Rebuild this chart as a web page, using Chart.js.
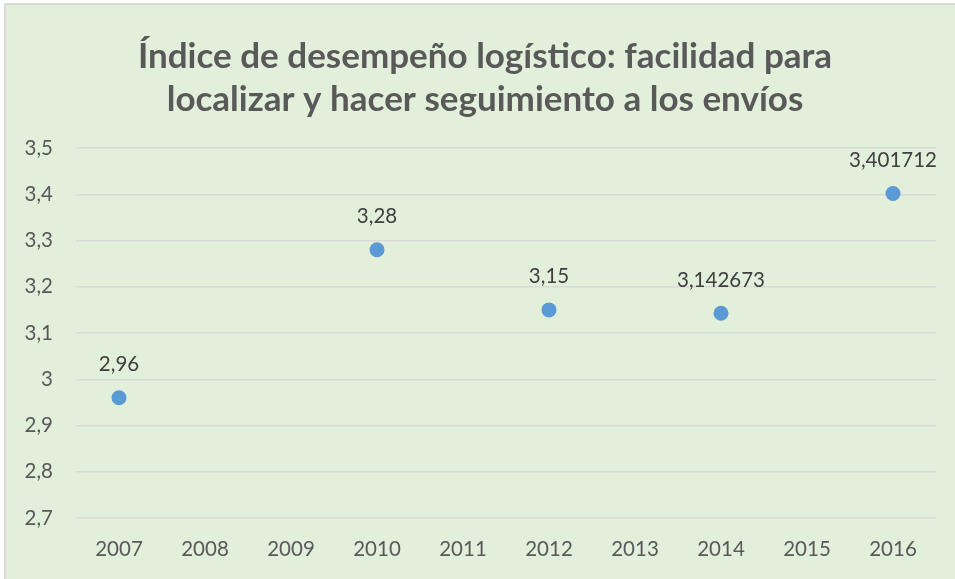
<!DOCTYPE html>
<html>
<head>
<meta charset="utf-8">
<script src="https://cdn.jsdelivr.net/npm/chart.js@4"></script>
<style>
  html, body { margin: 0; padding: 0; background: #ffffff; }
  #wrap { position: relative; width: 955px; height: 579px; }
  #bg {
    position: absolute; left: 4px; top: 3px; width: 951px; height: 576px;
    background: #E2EFDA; border-left: 2px solid #D9D9D9; border-top: 2px solid #D9D9D9;
    box-sizing: border-box;
  }
  #c { position: absolute; left: 0; top: 0; }
</style>
</head>
<body>
<div id="wrap">
  <div id="bg"></div>
  <canvas id="c" width="955" height="579"></canvas>
</div>
<script>
var years = ['2007', '2008', '2009', '2010', '2011', '2012', '2013', '2014', '2015', '2016'];
var values = [2.96, null, null, 3.28, null, 3.15, null, 3.142673, null, 3.401712];
var valueLabels = ['2,96', '', '', '3,28', '', '3,15', '', '3,142673', '', '3,401712'];
var titleLines = ['Índice de desempeño logístico: facilidad para', 'localizar y hacer seguimiento a los envíos'];

// title is drawn by hand: it is centred on the whole chart box, not on the canvas
var chartTitle = {
    id: 'chartTitle',
    afterDraw: function(chart) {
        var ctx = chart.ctx;
        ctx.save();
        ctx.font = 'bold 35px Lato';
        ctx.fillStyle = '#595959';
        ctx.textAlign = 'center';
        ctx.textBaseline = 'middle';
        ctx.fillText(titleLines[0], 485, 57);
        ctx.fillText(titleLines[1], 485, 100);
        ctx.restore();
    }
};

// draws the value above each point
var pointLabels = {
    id: 'pointLabels',
    afterDatasetsDraw: function(chart) {
        var ctx = chart.ctx;
        var meta = chart.getDatasetMeta(0);
        ctx.save();
        ctx.font = '20.5px Lato';
        ctx.fillStyle = '#404040';
        ctx.textAlign = 'center';
        ctx.textBaseline = 'middle';
        meta.data.forEach(function(pt, i) {
            if (values[i] === null) return;
            ctx.fillText(valueLabels[i], pt.x, pt.y - 33);
        });
        ctx.restore();
    }
};

var ctx = document.getElementById('c');
var myChart = new Chart(ctx, {
    type: 'line',
    data: {
        labels: years,
        datasets: [{
            data: values,
            showLine: false,
            pointRadius: 7.5,
            pointHoverRadius: 7.5,
            pointBackgroundColor: '#5B9BD5',
            pointBorderColor: '#5B9BD5',
            pointBorderWidth: 0
        }]
    },
    options: {
        responsive: false,
        animation: false,
        events: [],
        layout: { padding: { left: 0, right: 19, top: 148, bottom: 0 } },
        plugins: {
            legend: { display: false },
            tooltip: { enabled: false },
            title: { display: false }
        },
        scales: {
            y: {
                min: 2.7,
                max: 3.5,
                afterFit: function(scale) { scale.width = 76; },
                ticks: {
                    stepSize: 0.1,
                    padding: 23,
                    color: '#595959',
                    font: { family: 'Lato', size: 20.5 },
                    callback: function(v) {
                        return (Math.round(v * 10) / 10).toString().replace('.', ',');
                    }
                },
                grid: { color: '#D9D9D9', lineWidth: 1.5, drawTicks: false },
                border: { display: false }
            },
            x: {
                offset: true,
                afterFit: function(scale) { scale.height = 61; },
                ticks: {
                    padding: 19,
                    color: '#595959',
                    font: { family: 'Lato', size: 20.5 },
                    maxRotation: 0
                },
                grid: { display: false, drawTicks: false },
                border: { display: false }
            }
        }
    },
    plugins: [pointLabels, chartTitle]
});
</script>
</body>
</html>
